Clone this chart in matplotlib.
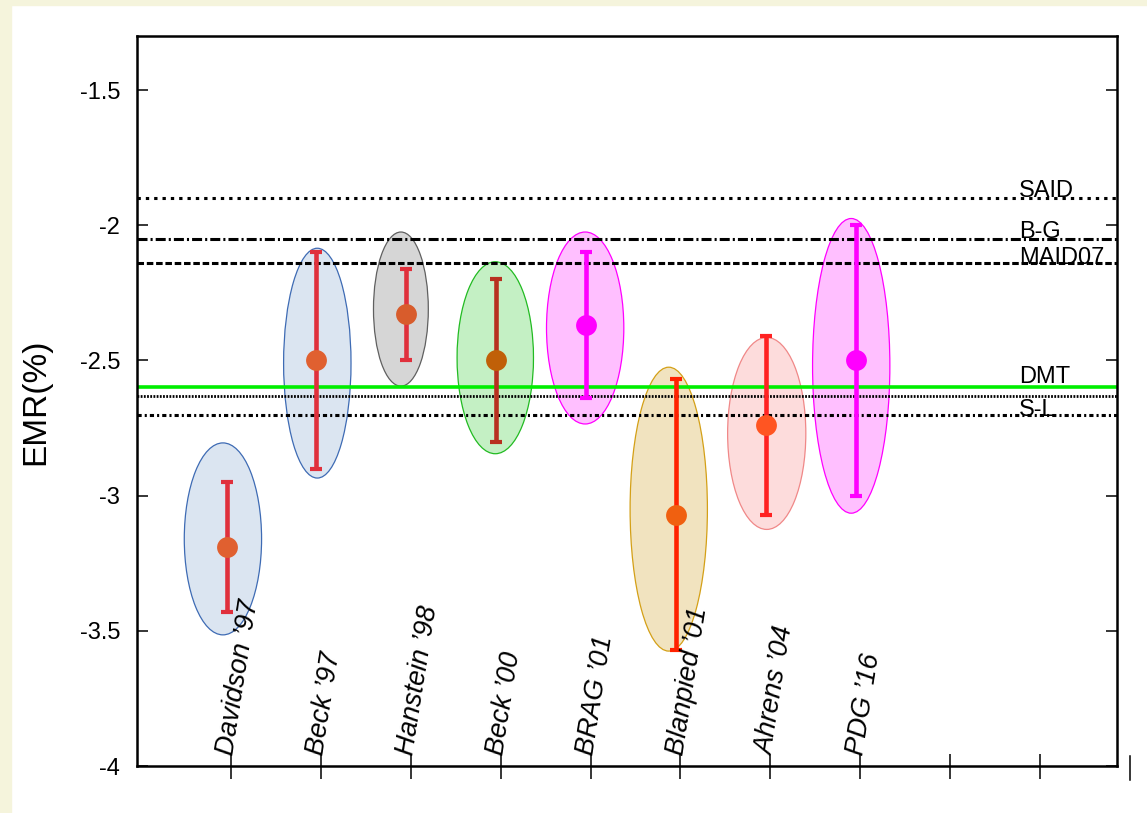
import numpy as np
import matplotlib
matplotlib.use('Agg')
import matplotlib.pyplot as plt
import matplotlib.transforms as mtransforms
from matplotlib.patches import Ellipse, Rectangle

plt.rcParams['font.family'] = ['Liberation Sans', 'DejaVu Sans']
plt.rcParams['lines.scale_dashes'] = False

# measurements
labels = ['Davidson ’97', 'Beck ’97', 'Hanstein ’98', 'Beck ’00',
          'BRAG ’01', 'Blanpied ’01', 'Ahrens ’04', 'PDG ’16']
x_pos = [0.95, 1.95, 2.95, 3.95, 4.95, 5.95, 6.955, 7.95]
emr = [-3.19, -2.50, -2.33, -2.50, -2.37, -3.07, -2.74, -2.50]
err_hi = [-2.95, -2.10, -2.16, -2.20, -2.10, -2.57, -2.41, -2.00]
err_lo = [-3.43, -2.90, -2.50, -2.80, -2.64, -3.57, -3.07, -3.00]

# shaded ellipses around each point
ell_x = [0.91, 1.96, 2.89, 3.94, 4.94, 5.87, 6.96, 7.90]
ell_y = [-3.16, -2.51, -2.31, -2.49, -2.38, -3.05, -2.77, -2.52]
ell_w = [0.86, 0.75, 0.61, 0.85, 0.86, 0.86, 0.87, 0.86]
ell_h = [0.71, 0.85, 0.57, 0.71, 0.71, 1.05, 0.71, 1.09]

ell_fill = ['#dbe5f1', '#dbe5f1', '#d6d6d6', '#c4f0c4', '#ffbfff', '#f1e3bf', '#fddcdc', '#ffbfff']
ell_edge = ['#3e6bb4', '#3e6bb4', '#606060', '#22bb22', '#ff00ff', '#d4a017', '#f08888', '#ff00ff']
bar_col = ['#e0303c', '#e0303c', '#e0303c', '#b83020', '#ff00ff', '#ff2200', '#ff2222', '#ff00ff']
dot_col = ['#e06030', '#e06030', '#d85c2c', '#c06008', '#ff00ff', '#f06010', '#ff5522', '#ff00ff']

# model predictions (horizontal lines)
model_names = ['SAID', 'B-G', 'MAID07', 'DMT', '', 'S-L']
model_vals = [-1.90, -2.05, -2.14, -2.60, -2.63, -2.70]
model_col = ['black', 'black', 'black', '#00ee00', 'black', 'black']
model_lw = [2.2, 2.2, 2.2, 2.6, 2.0, 2.2]
model_dash = [(2.4, 3.6), (7.2, 2.2, 1.5, 2.2), (4.7, 2.0), None, (1.3, 1.0), (3.0, 2.2, 1.5, 2.2)]
label_off = [0.004, 0.004, -0.004, 0.018, 0.0, -0.007]

fig = plt.figure(figsize=(11.47, 8.13), dpi=100)
fig.patch.set_facecolor('white')
fig.add_artist(Rectangle((0, 0), 11 / 1147, 1, transform=fig.transFigure,
                         color='#f5f4dc', zorder=-10))
fig.add_artist(Rectangle((0, 1 - 5 / 813), 1, 5 / 813, transform=fig.transFigure,
                         color='#f5f4dc', zorder=-10))

ax = fig.add_axes([137 / 1147, 1 - 766 / 813, 980 / 1147, 730 / 813])
ax.set_xlim(-0.046, 10.857)
ax.set_ylim(-4, -1.3)

for i in range(len(labels)):
    ax.add_patch(Ellipse((ell_x[i], ell_y[i]), ell_w[i], ell_h[i],
                         facecolor=ell_fill[i], edgecolor=ell_edge[i], lw=0.9, zorder=1))

for i in range(len(model_vals)):
    ln = ax.axhline(model_vals[i], color=model_col[i], lw=model_lw[i], zorder=2)
    ln.set_solid_capstyle('butt')
    if model_dash[i] is not None:
        ln.set_dashes(model_dash[i])
        ln.set_dash_capstyle('butt')
    if model_names[i]:
        ax.text(9.77, model_vals[i] + label_off[i], model_names[i], fontsize=17,
                va='baseline', ha='left', zorder=3)

for i in range(len(labels)):
    ax.errorbar(x_pos[i], emr[i], yerr=[[emr[i] - err_lo[i]], [err_hi[i] - emr[i]]],
                fmt='none', ecolor=bar_col[i], elinewidth=3.3, capsize=4, capthick=3,
                zorder=4)
    ax.plot(x_pos[i], emr[i], 'o', ms=15, color=dot_col[i], mec='none', zorder=5)
    ax.text(i + 1 - 0.05, -3.96, labels[i], rotation=81, rotation_mode='anchor',
            ha='left', va='center', fontsize=19.5, style='italic', zorder=6)

yt = [-4, -3.5, -3, -2.5, -2, -1.5]
ax.set_yticks(yt)
ax.set_yticklabels(['-4', '-3.5', '-3', '-2.5', '-2', '-1.5'])
ax.set_xticks(range(1, 11))
ax.set_xticklabels([])
ax.tick_params(axis='y', direction='in', length=8, width=1.1, left=True, right=True,
               labelsize=17, pad=12)
ax.tick_params(axis='x', direction='inout', length=18, width=1.1)
# extra tick beyond the frame
trans = mtransforms.blended_transform_factory(ax.transData, ax.transAxes)
ax.plot([11, 11], [0.0137, -0.0192], color='black', lw=1.1, transform=trans, clip_on=False)

for s in ax.spines.values():
    s.set_linewidth(1.8)

ax.set_ylabel('EMR(%)', fontsize=24)
ax.yaxis.set_label_coords(-0.088, 0.499)

fig.savefig('out.png', dpi=100)
